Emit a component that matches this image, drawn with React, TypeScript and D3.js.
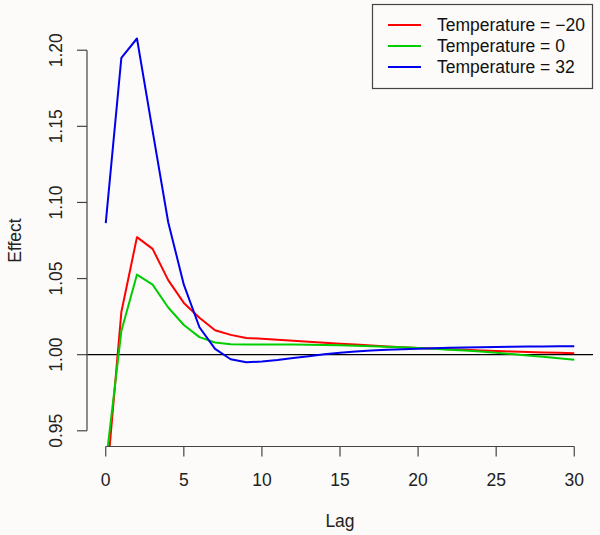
import React from "react";
import * as d3 from "d3";

const lags = d3.range(0, 31);
const seriesNames = ["Temperature = \u221220", "Temperature = 0", "Temperature = 32"];
const seriesColors = ["#FF0000", "#00CD00", "#0000EE"];
const redVals = [0.91, 1.028, 1.0772, 1.0695, 1.049, 1.034, 1.0243, 1.016, 1.013, 1.011, 1.0105, 1.0098, 1.0091, 1.0085, 1.0078, 1.0072, 1.0066, 1.006, 1.0054, 1.0049, 1.0044, 1.004, 1.0036, 1.0032, 1.0028, 1.0024, 1.0021, 1.0018, 1.0015, 1.0012, 1.0009];
const greenVals = [0.928, 1.0155, 1.0526, 1.046, 1.031, 1.0195, 1.0115, 1.008, 1.0069, 1.0066, 1.0066, 1.0066, 1.0066, 1.0065, 1.0064, 1.0062, 1.0059, 1.0056, 1.0052, 1.0048, 1.0044, 1.0039, 1.0033, 1.0027, 1.002, 1.0012, 1.0004, 0.9995, 0.9986, 0.9977, 0.9967];
const blueVals = [1.0864, 1.195, 1.2077, 1.147, 1.087, 1.046, 1.018, 1.0038, 0.997, 0.995, 0.9955, 0.9965, 0.9978, 0.999, 1.0003, 1.0013, 1.0021, 1.0027, 1.0032, 1.0036, 1.0039, 1.0042, 1.0045, 1.0047, 1.0049, 1.0051, 1.0052, 1.0053, 1.0054, 1.0055, 1.0055];
const xTicks = [0, 5, 10, 15, 20, 25, 30];
const yTicks = [0.95, 1.0, 1.05, 1.1, 1.15, 1.2];

export default function App() {
  const W = 600, H = 535;
  const left = 87, right = 593, top = 35, bottom = 446;
  const x = d3.scaleLinear().domain([-1.2, 31.2]).range([left, right]);
  const y = d3.scaleLinear().domain([0.94, 1.21]).range([bottom, top]);
  const line = d3.line<number>().x((_, i) => x(lags[i])).y((v) => y(v));
  const all = [redVals, greenVals, blueVals];
  const font = "'Liberation Sans', Arial, Helvetica, sans-serif";
  const axisCol = "#444";
  const fs = 17.5;
  return (
    <svg width={W} height={H} style={{ position: "absolute", left: 0, top: 0, background: "#FCFBF9" }} fontFamily={font}>
      <rect x={0} y={0} width={W} height={H} fill="#FCFBF9" />
      <defs>
        <clipPath id="plotclip">
          <rect x={left} y={top} width={right - left} height={bottom - top} />
        </clipPath>
      </defs>
      <line x1={left} x2={right} y1={y(1)} y2={y(1)} stroke="#000" strokeWidth={1.2} />
      <g clipPath="url(#plotclip)">
        {all.map((vals, k) => (
          <path key={k} d={line(vals) || ""} fill="none" stroke={seriesColors[k]} strokeWidth={2} strokeLinejoin="round" />
        ))}
      </g>
      {/* x axis */}
      <line x1={x(0)} x2={x(30)} y1={bottom + 0.5} y2={bottom + 0.5} stroke={axisCol} strokeWidth={1.2} />
      {xTicks.map((t) => (
        <g key={t}>
          <line x1={x(t)} x2={x(t)} y1={bottom + 0.5} y2={bottom + 10.5} stroke={axisCol} strokeWidth={1.2} />
          <text x={x(t)} y={486} fontSize={fs} textAnchor="middle" fill="#222">{t}</text>
        </g>
      ))}
      {/* y axis */}
      <line x1={left} x2={left} y1={y(0.95)} y2={y(1.2)} stroke={axisCol} strokeWidth={1.2} />
      {yTicks.map((t) => (
        <g key={t}>
          <line x1={left - 10} x2={left} y1={y(t)} y2={y(t)} stroke={axisCol} strokeWidth={1.2} />
          <text transform={`translate(62,${y(t)}) rotate(-90)`} fontSize={fs} textAnchor="middle" fill="#222">{t.toFixed(2)}</text>
        </g>
      ))}
      <text x={(left + right) / 2} y={527} fontSize={fs} textAnchor="middle" fill="#222">Lag</text>
      <text transform={`translate(21,${(top + bottom) / 2}) rotate(-90)`} fontSize={fs} textAnchor="middle" fill="#222">Effect</text>
      {/* legend */}
      <rect x={372.5} y={4.5} width={220} height={84} fill="none" stroke={axisCol} strokeWidth={1.2} />
      {seriesNames.map((n, k) => (
        <g key={n}>
          <line x1={388} x2={421} y1={25 + k * 21} y2={25 + k * 21} stroke={seriesColors[k]} strokeWidth={2} />
          <text x={437} y={25 + k * 21 + 6} fontSize={fs} fill="#111">{n}</text>
        </g>
      ))}
    </svg>
  );
}
